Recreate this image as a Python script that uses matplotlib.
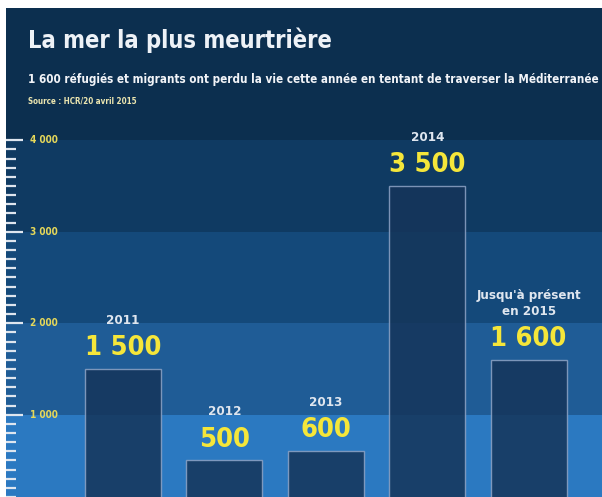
import matplotlib
matplotlib.use("Agg")
import matplotlib.pyplot as plt
from matplotlib import font_manager as fm
from matplotlib.transforms import blended_transform_factory

# ---------------- data ----------------
years = ["2011", "2012", "2013", "2014", "Jusqu'à présent\nen 2015"]
deaths = [1500, 500, 600, 3500, 1600]
value_labels = ["1 500", "500", "600", "3 500", "1 600"]
tick_values = [1000, 2000, 3000, 4000]
tick_labels = ["1 000", "2 000", "3 000", "4 000"]
title = "La mer la plus meurtrière"
subtitle = "1 600 réfugiés et migrants ont perdu la vie cette année en tentant de traverser la Méditerranée"
source = "Source : HCR/20 avril 2015"

# ---------------- fonts ----------------
def pick_font():
    prefs = ["liberationsansnarrow-bold", "dejavusanscondensed-bold", "robotocondensed-bold",
             "liberationsans-bold", "dejavusans-bold"]
    files = {f.fname.split("/")[-1].lower().rsplit(".", 1)[0]: f.fname for f in fm.fontManager.ttflist}
    for p in prefs:
        if p in files:
            return files[p]
    return None

ffile = pick_font()
def fp(size):
    if ffile:
        return fm.FontProperties(fname=ffile, size=size)
    return fm.FontProperties(family="DejaVu Sans", weight="bold", size=size)

# ---------------- colours ----------------
panel = "#0c2f4f"
bands = ["#2b79c1", "#1f5c96", "#14497a", "#0f3a62"]
bar_col = "#15355a"
edge_col = "#8ea4c6"
yellow = "#f5e63a"
tick_yellow = "#e6d85a"
light = "#dfe6ef"

W, H = 602, 497
fig = plt.figure(figsize=(W / 100, H / 100), dpi=100, facecolor="white")

ax = fig.add_axes([6 / W, 0, (W - 6) / W, (H - 8) / H])
ax.set_facecolor(bands[0])
ymin, ymax = 130, 5446

lows = [-500, 1000, 2000, 3000, 4000]
highs = [1000, 2000, 3000, 4000, 6000]
for lo, hi, c in zip(lows, highs, bands + [panel]):
    ax.axhspan(lo, hi, color=c, zorder=0, lw=0)

x = list(range(len(deaths)))
ax.bar(x, deaths, width=0.75, color=bar_col, alpha=0.85,
       edgecolor=edge_col, linewidth=1.0, zorder=2)
ax.set_ylim(ymin, ymax)
ax.set_xlim(-1.154, 4.724)

for sp in ax.spines.values():
    sp.set_visible(False)
ax.set_xticks([])
ax.set_yticks(tick_values)
minor = [v for v in range(100, 4000, 100) if v % 1000 != 0]
ax.set_yticks(minor, minor=True)
ax.tick_params(axis="y", which="major", direction="in", length=12, width=1.6,
               color=light, labelleft=False)
ax.tick_params(axis="y", which="minor", direction="in", length=7.2, width=1.6,
               color=light, labelleft=False)

renderer = fig.canvas.get_renderer()
def fit(t, target_px):
    w = t.get_window_extent(renderer).width
    t.set_fontsize(t.get_fontsize() * target_px / w)

trans = blended_transform_factory(ax.transAxes, ax.transData)
for v, lab in zip(tick_values, tick_labels):
    t = ax.text(24 / (W - 6), v, lab, transform=trans, ha="left", va="center",
                color=tick_yellow, fontproperties=fp(7))
    fit(t, 28)

for i, (v, yl, vl) in enumerate(zip(deaths, years, value_labels)):
    ax.annotate(vl, (i, v), xytext=(0, 10), textcoords="offset points",
                ha="center", va="baseline", color=yellow, fontproperties=fp(19.5), zorder=3)
    ax.annotate(yl, (i, v), xytext=(0, 32.5), textcoords="offset points",
                ha="center", va="baseline", color=light, fontproperties=fp(9.5),
                linespacing=1.25, zorder=3)

t = fig.text(28 / W, 1 - 48 / H, title, color="#eef2f7", fontproperties=fp(20), va="baseline")
fit(t, 305)
t = fig.text(28 / W, 1 - 83 / H, subtitle, color="#f2f4f8", fontproperties=fp(10), va="baseline")
fit(t, 568)
t = fig.text(28 / W, 1 - 104 / H, source, color="#ece6b0", fontproperties=fp(5.5), va="baseline")
fit(t, 108)

fig.savefig("out.png", dpi=100, facecolor="white")
